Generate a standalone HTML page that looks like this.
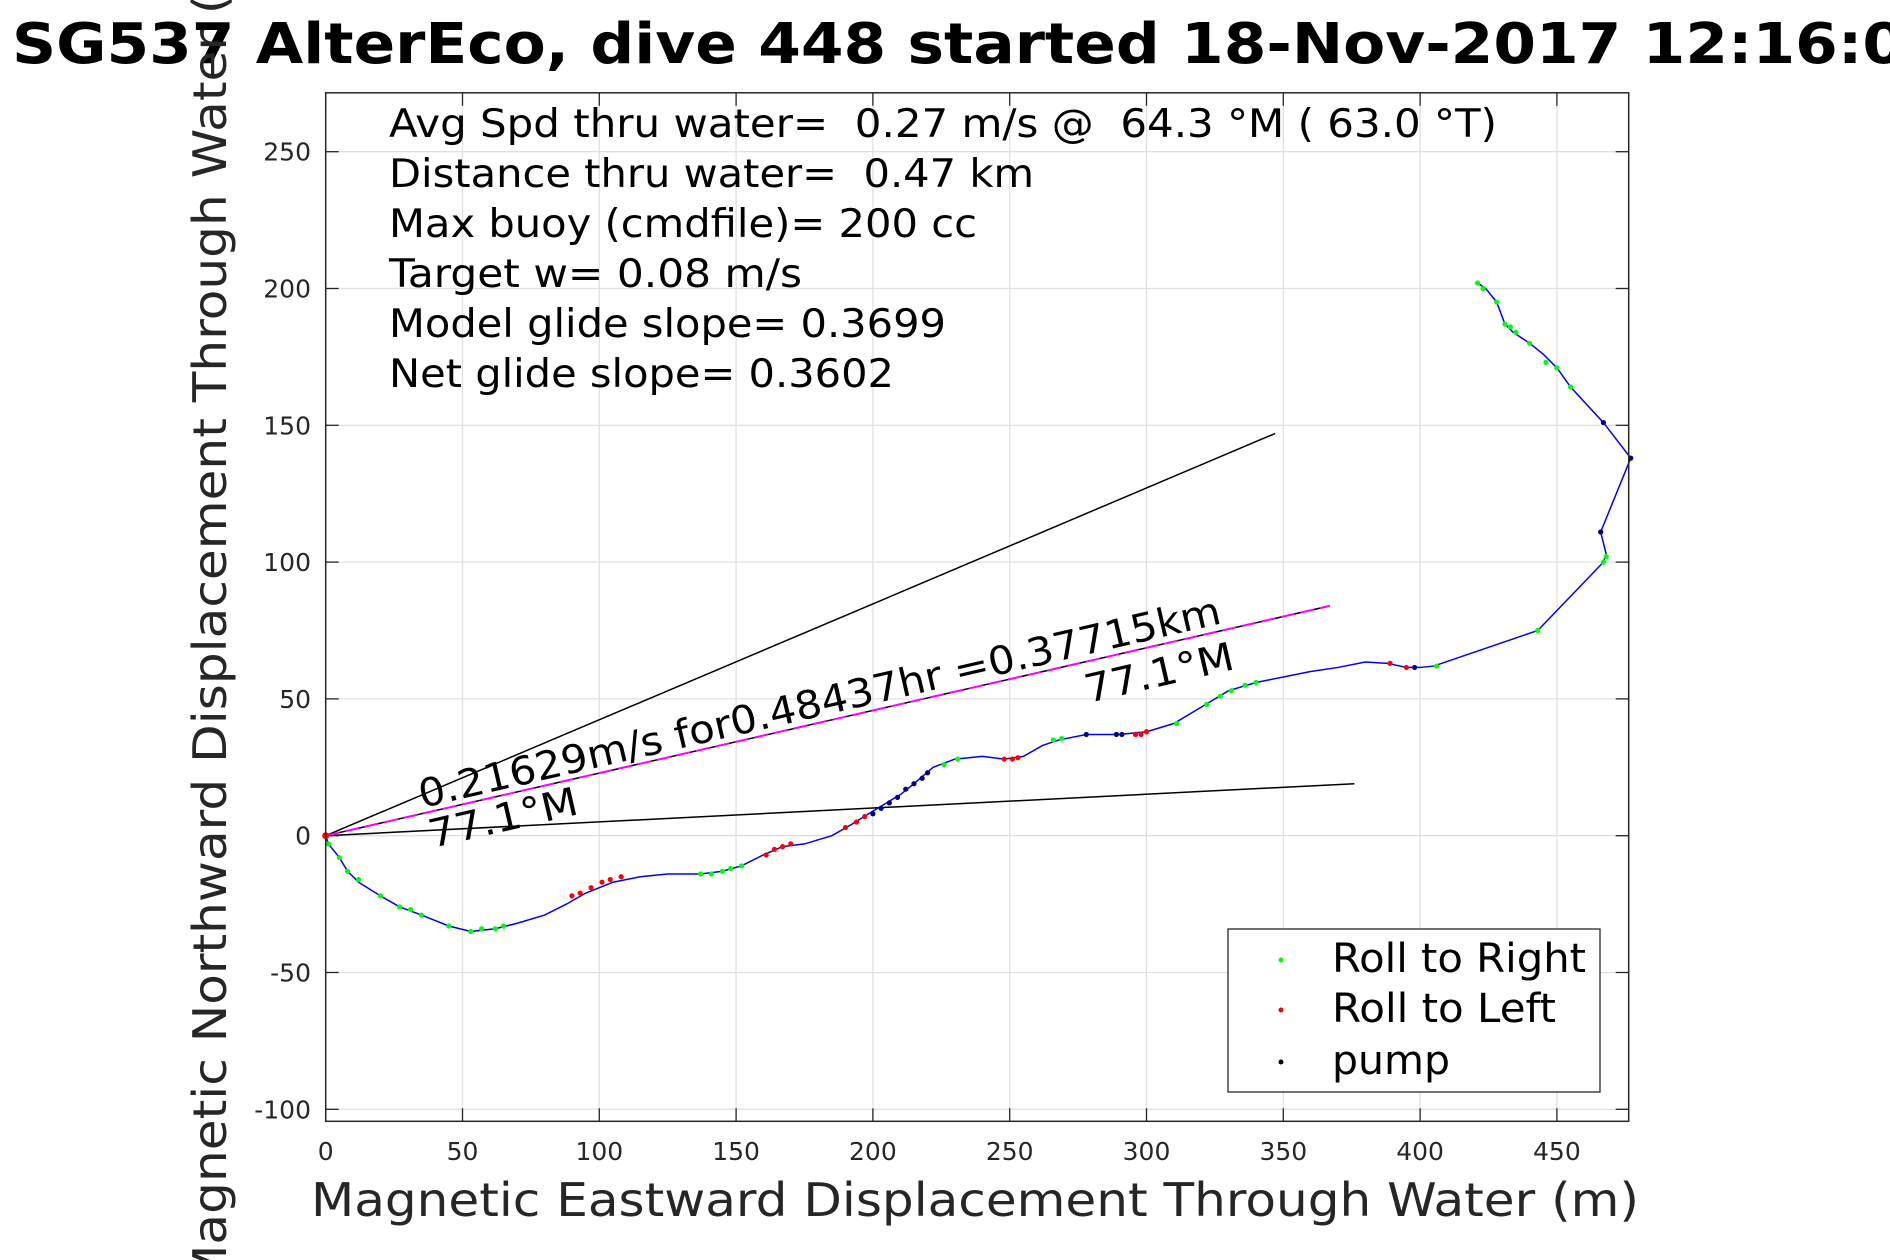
<!DOCTYPE html>
<html><head><meta charset="utf-8">
<style>
html,body{margin:0;padding:0;background:#fff;}
svg{display:block;}
text{font-family:"DejaVu Sans","Liberation Sans",sans-serif;white-space:pre;}
</style></head>
<body>
<svg id="chart" width="1890" height="1260" viewBox="0 0 1890 1260" xmlns="http://www.w3.org/2000/svg">
<rect x="0" y="0" width="1890" height="1260" fill="#fff"/>
<g id="grid"></g>
<g id="ticks"></g>
<g id="refs"></g>
<g id="track"></g>
<rect x="325.7" y="92.8" width="1303" height="1028.5" fill="none" stroke="#262626" stroke-width="1.5"/>
<text x="12" y="63" font-size="56" font-weight="bold" fill="#000" textLength="1893" lengthAdjust="spacingAndGlyphs">SG537 AlterEco, dive 448 started 18-Nov-2017 12:16:0</text>
<g font-size="39" fill="#000">
<text x="389" y="137" textLength="1108" lengthAdjust="spacingAndGlyphs">Avg Spd thru water=  0.27 m/s @  64.3 °M ( 63.0 °T)</text>
<text x="389" y="187" textLength="645" lengthAdjust="spacingAndGlyphs">Distance thru water=  0.47 km</text>
<text x="389" y="237" textLength="588" lengthAdjust="spacingAndGlyphs">Max buoy (cmdfile)= 200 cc</text>
<text x="389" y="287" textLength="413" lengthAdjust="spacingAndGlyphs">Target w= 0.08 m/s</text>
<text x="389" y="337" textLength="557" lengthAdjust="spacingAndGlyphs">Model glide slope= 0.3699</text>
<text x="389" y="387" textLength="505" lengthAdjust="spacingAndGlyphs">Net glide slope= 0.3602</text>
</g>
<text transform="translate(422,808) rotate(-13)" font-size="39" textLength="822" lengthAdjust="spacingAndGlyphs">0.21629m/s for0.48437hr =0.37715km</text>
<text transform="translate(432,848) rotate(-13)" font-size="39" textLength="152" lengthAdjust="spacingAndGlyphs">77.1°M</text>
<text transform="translate(1088,703) rotate(-13)" font-size="39" textLength="152" lengthAdjust="spacingAndGlyphs">77.1°M</text>
<text id="ylab" transform="translate(226,607) rotate(-90)" text-anchor="middle" font-size="46" fill="#262626">Magnetic Northward Displacement Through Water (m)</text>
<text x="311" y="1216" font-size="46" fill="#262626" textLength="1328" lengthAdjust="spacingAndGlyphs">Magnetic Eastward Displacement Through Water (m)</text>
<g>
<rect x="1228" y="929" width="372" height="163" fill="#fff" stroke="#262626" stroke-width="1.3"/>
<circle cx="1281" cy="960" r="2.5" fill="#00ff00"/>
<text x="1332" y="972" font-size="40" textLength="254" lengthAdjust="spacingAndGlyphs">Roll to Right</text>
<circle cx="1281" cy="1010" r="2.5" fill="#ff0000"/>
<text x="1332" y="1022" font-size="40" textLength="224" lengthAdjust="spacingAndGlyphs">Roll to Left</text>
<circle cx="1281" cy="1062" r="2.5" fill="#000"/>
<text x="1332" y="1074" font-size="40" textLength="118" lengthAdjust="spacingAndGlyphs">pump</text>
</g>
</svg>
<script>
const xTicks=[0,50,100,150,200,250,300,350,400,450];
const yTicks=[-100,-50,0,50,100,150,200,250];
const trackX=[0,1,5,8,12,20,27,35,45,53,62,70,80,88,95,105,115,125,137,145,152,160,167,175,185,192,200,205,210,215,222,230,240,248,255,262,268,278,290,300,310,320,330,340,350,360,370,380,388,395,400,405,443,467,468,466,477,467,455,450,445,440,434,431,428,424,421];
const trackY=[0,-3,-8,-13,-17,-22,-26,-29,-33,-35,-34,-32,-29,-25,-21,-17,-15,-14,-14,-13,-11,-7,-4,-3,0,4,9,12,15,19,25,28,29,28,29,33,35,37,37,38,41,47,53,56,58,60,61.5,63.5,63,61.5,61.5,62,75,100,103,111,138,151,164,171,176,180,184,187,195,200,202];
const markX=[1,5,8,12,20,27,31,35,45,53,57,62,65,90,93,97,101,104,108,137,141,145,148,152,161,164,167,170,190,194,197,200,203,206,209,212,215,218,220,226,231,248,251,253,266,269,278,289,291,296,298,300,311,322,327,331,336,340,389,395,398,406,443,467,468,466,477,467,455,450,446,440,435,433,431,428,423,421];
const markY=[-3,-8,-13,-16,-22,-26,-27,-29,-33,-35,-34,-34,-33,-22,-21,-19,-17,-16,-15,-14,-14,-13,-12,-11,-7,-5,-4,-3,3,5,7,8,10,12,14,17,19,21,23,26,28,28,28,28.5,35,35.5,37,37,37,37,37,38,41,48,51,53,55,56,63,61.5,61.5,62,75,100,102,111,138,151,164,171,173,180,184,186,187,195,200,202];
const markType=["g","g","g","g","g","g","g","g","g","g","g","g","g","r","r","r","r","r","r","g","g","g","g","g","r","r","r","r","r","r","r","k","k","k","k","k","k","k","k","g","g","r","r","r","g","g","k","k","k","r","r","r","g","g","g","g","g","g","r","r","k","g","g","g","g","k","k","k","g","g","g","g","g","g","g","g","g","g"];
const refEndX=[347,376,367];
const refEndY=[147,19,84];

const X0=325.7,Y0=835.7,S=2.736,XR=1628.7,YT=92.8,YB=1121.3;
const sx=v=>X0+v*S, sy=v=>Y0-v*S;
const NS='http://www.w3.org/2000/svg';
function mk(tag,attrs,parent){const e=document.createElementNS(NS,tag);for(const k in attrs)e.setAttribute(k,attrs[k]);parent.appendChild(e);return e;}
const ylab=document.getElementById('ylab');
ylab.setAttribute('textLength',(ylab.getComputedTextLength()*1.09).toFixed(1));
ylab.setAttribute('lengthAdjust','spacingAndGlyphs');
const grid=document.getElementById('grid'),ticks=document.getElementById('ticks');
xTicks.forEach(t=>{
  const x=sx(t);
  const g=mk('line',{x1:x,x2:x,y1:YT,y2:YB,stroke:'#e0e0e0','stroke-width':1.3},grid);
  
  
  const a=mk('line',{x1:x,x2:x,y1:YB,y2:YB-13,stroke:'#262626','stroke-width':1.3},ticks);
  
  
  const b=mk('line',{x1:x,x2:x,y1:YT,y2:YT+13,stroke:'#262626','stroke-width':1.3},ticks);
  
  
  const l=mk('text',{x:x,y:1160,'text-anchor':'middle','font-size':25,fill:'#262626'},ticks);
  l.textContent=t;
  
  
});
yTicks.forEach(t=>{
  const y=sy(t);
  const g=mk('line',{x1:X0,x2:XR,y1:y,y2:y,stroke:'#e0e0e0','stroke-width':1.3},grid);
  
  
  const a=mk('line',{x1:X0,x2:X0+13,y1:y,y2:y,stroke:'#262626','stroke-width':1.3},ticks);
  
  
  const b=mk('line',{x1:XR,x2:XR-13,y1:y,y2:y,stroke:'#262626','stroke-width':1.3},ticks);
  
  
  const l=mk('text',{x:311,y:y+9,'text-anchor':'end','font-size':25,fill:'#262626'},ticks);
  l.textContent=t;
  
  
});
const refs=document.getElementById('refs');
refEndX.forEach((ex,i)=>{
  const l=mk('line',{x1:sx(0),y1:sy(0),x2:sx(ex),y2:sy(refEndY[i]),stroke:'#000','stroke-width':1.5},refs);
  
  
});
const m=mk('line',{x1:sx(0),y1:sy(0),x2:sx(refEndX[2]),y2:sy(refEndY[2]),stroke:'#ff00ff','stroke-width':2,'stroke-dasharray':'14 6'},refs);


const track=document.getElementById('track');
const p=mk('polyline',{points:trackX.map((x,i)=>sx(x)+','+sy(trackY[i])).join(' '),fill:'none',stroke:'#0000ff','stroke-width':1.5},track);


const col={g:'#00ff00',r:'#ff0000',k:'#000080'};
markX.forEach((x,i)=>{
  const c=mk('circle',{cx:sx(x),cy:sy(markY[i]),r:2.6,fill:col[markType[i]]},track);
  
  
});
const o=mk('circle',{cx:sx(0),cy:sy(0),r:3.5,fill:'#ff0000'},track);


</script>
</body></html>
